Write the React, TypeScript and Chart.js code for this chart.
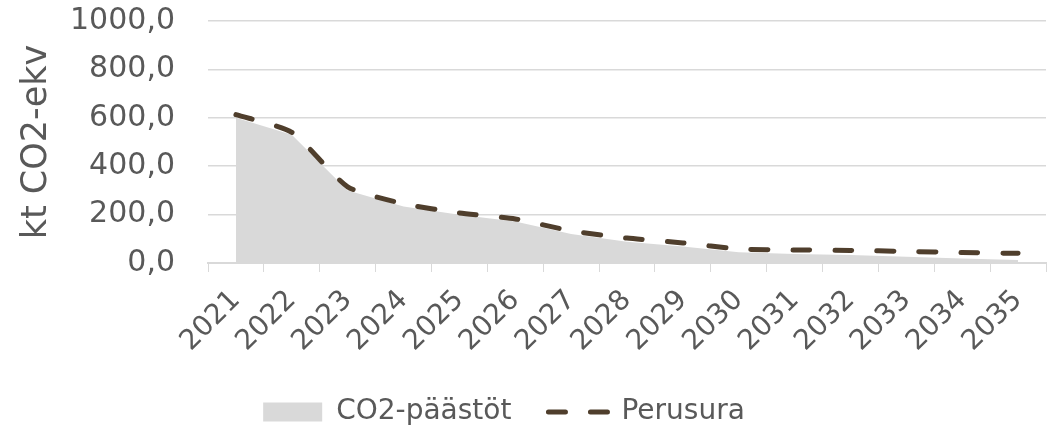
import React, { useEffect, useRef } from "react";
import { Chart, registerables } from "chart.js";

Chart.register(...registerables);

const years = ["2021", "2022", "2023", "2024", "2025", "2026", "2027", "2028", "2029", "2030", "2031", "2032", "2033", "2034", "2035"];
const co2Emissions = [600, 530, 300, 233, 199, 171, 120, 88, 68, 44, 37, 33, 26, 19, 12];
const baseline = [613, 540, 315, 245, 207, 182, 133, 103, 83, 58, 54, 52, 48, 43, 40];
const yTicks = [0, 200, 400, 600, 800, 1000];
const seriesNames = ["CO2-päästöt", "Perusura"];
const yTitle = "kt CO2-ekv";

const FONT = "'DejaVu Sans', Verdana, sans-serif";
const TEXT = "#595959";
const GRID = "#d9d9d9";
const LINE = "#4f3e2c";
const DASH = [17, 25];

const legendShift = {
  id: "legendShift",
  afterLayout(chart: any) {
    const l = chart.legend;
    if (l) {
      l.left -= 19;
      l.right -= 19;
    }
  },
};

export default function App() {
  const ref = useRef<HTMLCanvasElement | null>(null);

  useEffect(() => {
    if (!ref.current) return;
    const chart = new Chart(ref.current, {
      type: "line",
      data: {
        labels: years,
        datasets: [
          {
            label: seriesNames[0],
            data: co2Emissions,
            fill: "origin",
            backgroundColor: GRID,
            borderWidth: 0,
            borderColor: GRID,
            pointRadius: 0,
            tension: 0,
            order: 2,
          },
          {
            label: seriesNames[1],
            data: baseline,
            fill: false,
            borderColor: LINE,
            backgroundColor: LINE,
            borderWidth: 5,
            borderDash: DASH,
            borderCapStyle: "round",
            pointRadius: 0,
            tension: 0.2,
            order: 1,
          },
        ],
      },
      plugins: [legendShift],
      options: {
        animation: false,
        responsive: false,
        maintainAspectRatio: false,
        layout: { padding: { top: 21, right: 10, left: 0, bottom: -5 } },
        scales: {
          x: {
            offset: true,
            grid: {
              offset: true,
              drawOnChartArea: false,
              drawTicks: true,
              tickLength: 9,
              color: GRID,
            },
            border: { display: true, color: GRID, width: 2 },
            ticks: {
              autoSkip: false,
              minRotation: 45,
              maxRotation: 45,
              padding: 12,
              color: TEXT,
              font: { family: FONT, size: 28 },
            },
            afterFit: (scale: any) => {
              scale.height = 98;
            },
          },
          y: {
            min: 0,
            max: 1000,
            afterBuildTicks: (scale: any) => {
              scale.ticks = yTicks.map((v) => ({ value: v }));
            },
            grid: { color: GRID, drawTicks: true, tickLength: 33, tickColor: "rgba(0,0,0,0)", lineWidth: 1.5 },
            border: { display: false },
            ticks: {
              padding: 0,
              color: TEXT,
              font: { family: FONT, size: 30 },
              callback: (v: any) => Number(v).toFixed(1).replace(".", ","),
            },
            title: {
              display: true,
              text: yTitle,
              color: TEXT,
              font: { family: FONT, size: 35, weight: "normal" },
              padding: { top: 16, bottom: 0 },
            },
            afterFit: (scale: any) => {
              scale.width = 208;
            },
          },
        },
        plugins: {
          tooltip: { enabled: false },
          legend: {
            display: true,
            position: "bottom",
            labels: {
              usePointStyle: true,
              pointStyleWidth: 59,
              boxHeight: 19,
              padding: 37,
              color: TEXT,
              font: { family: FONT, size: 28 },
              sort: (a: any, b: any) => a.datasetIndex - b.datasetIndex,
              generateLabels: (ch: any) => {
                const items = (Chart.defaults.plugins.legend.labels as any).generateLabels(ch);
                return items.map((it: any) => {
                  if (it.datasetIndex === 0) {
                    return { ...it, pointStyle: "rect", fillStyle: GRID, strokeStyle: GRID, lineWidth: 0, lineDash: [] };
                  }
                  return { ...it, pointStyle: "line", strokeStyle: LINE, fillStyle: LINE, lineWidth: 5, lineDash: DASH, lineCap: "round" };
                });
              },
            },
          },
        },
      },
    });
    return () => chart.destroy();
  }, []);

  return (
    <div style={{ position: "fixed", left: 0, top: 0, width: 1056, height: 431, background: "#fff" }}>
      <canvas ref={ref} width={1056} height={431} style={{ width: 1056, height: 431, display: "block" }} />
    </div>
  );
}
